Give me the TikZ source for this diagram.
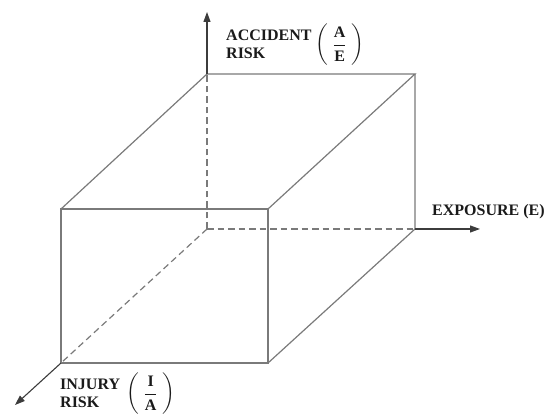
\documentclass[tikz,border=0pt]{standalone}
\usepackage{fontspec}
\usepackage{amsmath}
\setmainfont{Liberation Serif}
\usetikzlibrary{arrows.meta}
\definecolor{edgegray}{HTML}{7A7A7A}
\definecolor{lbltext}{HTML}{1A1A1A}
\tikzset{
  edge/.style={draw=edgegray, line width=1.2pt},
  hidden/.style={draw=edgegray, line width=1.2pt, dash pattern=on 6.5pt off 4pt},
  axis/.style={-{Triangle[length=10pt,width=7pt]}, draw=lbltext!85, line width=1.1pt},
  lbl/.style={font=\fontsize{16}{18}\selectfont\bfseries, text=lbltext, inner sep=0pt, align=left},
  frc/.style={font=\fontsize{16}{18}\selectfont, text=lbltext, inner sep=0pt},
}
\newcommand{\bfr}[2]{$\biggl(\;\dfrac{\text{\bfseries #1}}{\text{\bfseries #2}}\;\biggr)$}

\begin{document}
\begin{tikzpicture}[x=1pt,y=-1pt]
  \useasboundingbox (0,0) rectangle (544,414);
  % back face corners
  \coordinate (o) at (207,229);
  \coordinate (ot) at (207,74);
  \coordinate (ox) at (415,229);
  \coordinate (oxt) at (415,74);
  % front face corners
  \coordinate (f) at (61,363);
  \coordinate (ft) at (61,209);
  \coordinate (fx) at (268,363);
  \coordinate (fxt) at (268,209);
  % axis ends
  \coordinate (ytip) at (207,12);
  \coordinate (xtip) at (480,229);
  \coordinate (ztip) at (15,405);
  % hidden edges
  \draw[hidden] (o) -- (ot);
  \draw[hidden] (o) -- (ox);
  \draw[hidden] (o) -- (f);
  % visible edges
  \draw[edge] (f) -- (fx) -- (fxt) -- (ft) -- cycle;
  \draw[edge] (ft) -- (ot) -- (oxt) -- (fxt);
  \draw[edge] (oxt) -- (ox) -- (fx);
  % axes
  \draw[axis] (ot) -- (ytip);
  \draw[axis] (ox) -- (xtip);
  \draw[axis] (f) -- (ztip);
  % labels
  \node[lbl, anchor=west] (acc) at (226,44) {ACCIDENT\\RISK};
  \node[frc, anchor=west] (accfr) at (315,45) {\bfr{A}{E}};
  \node[lbl, anchor=west] (exp) at (432,212) {EXPOSURE (E)};
  \node[lbl, anchor=west] (inj) at (60,393) {INJURY\\RISK};
  \node[frc, anchor=west] (injfr) at (126,394) {\bfr{I}{A}};
\end{tikzpicture}
\end{document}
